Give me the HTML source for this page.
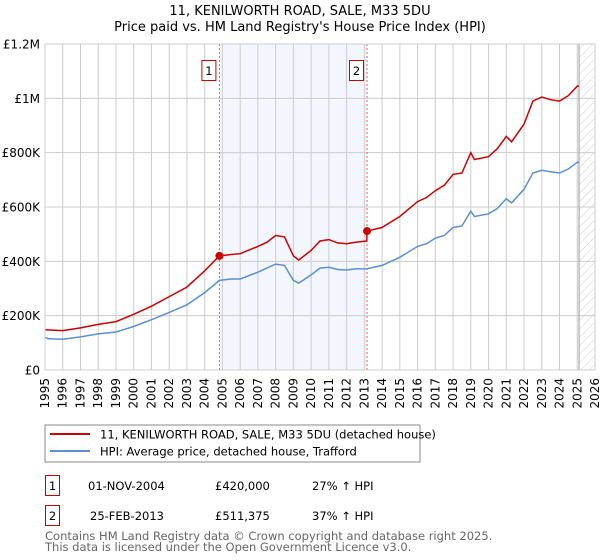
<!DOCTYPE html>
<html><head><meta charset="utf-8"><style>
body{margin:0;width:600px;height:560px;background:#fff;font-family:"DejaVu Sans","Liberation Sans",sans-serif;overflow:hidden}
svg{display:block}
</style></head><body>
<svg width="600" height="560" id="c" font-family="DejaVu Sans, Liberation Sans, sans-serif">
<defs><pattern id="hatch" width="6" height="6" patternUnits="userSpaceOnUse" patternTransform="rotate(45)"><line x1="0" y1="0" x2="0" y2="6" stroke="#ccc" stroke-width="1"/></pattern></defs>
<text x="300" y="15" text-anchor="middle" font-size="13">11, KENILWORTH ROAD, SALE, M33 5DU</text>
<text x="300" y="31" text-anchor="middle" font-size="13">Price paid vs. HM Land Registry's House Price Index (HPI)</text>
<g id="plot"></g>
<rect x="45" y="425" width="375" height="37" fill="#fff" stroke="#888"/>
<line x1="50" y1="434" x2="90" y2="434" stroke="#cc0000" stroke-width="2"/>
<text x="100" y="438.5" font-size="11.5">11, KENILWORTH ROAD, SALE, M33 5DU (detached house)</text>
<line x1="50" y1="451" x2="90" y2="451" stroke="#5b8fd0" stroke-width="2"/>
<text x="100" y="455.5" font-size="11.5">HPI: Average price, detached house, Trafford</text>
<g font-size="11.5">
<rect x="45.5" y="475.5" width="14" height="20" fill="#fff" stroke="#cc0000"/>
<text x="52.5" y="490" text-anchor="middle">1</text>
<text x="88" y="490">01-NOV-2004</text>
<text x="215" y="490">£420,000</text>
<text x="312" y="490">27% ↑ HPI</text>
<rect x="45.5" y="505.5" width="14" height="20" fill="#fff" stroke="#cc0000"/>
<text x="52.5" y="520" text-anchor="middle">2</text>
<text x="90" y="520">25-FEB-2013</text>
<text x="215" y="520">£511,375</text>
<text x="312" y="520">37% ↑ HPI</text>
</g>
<text x="45" y="540" font-size="11.5" fill="#666">Contains HM Land Registry data © Crown copyright and database right 2025.</text>
<text x="45" y="551" font-size="11.5" fill="#666">This data is licensed under the Open Government Licence v3.0.</text>
</svg>
<script>
const hpiDates=[1995,1995.2,1996,1997,1998,1999,2000,2001,2002,2003,2004,2004.83,2005.5,2006,2007,2007.5,2008,2008.5,2009,2009.3,2010,2010.5,2011,2011.5,2012,2012.5,2013.15,2014,2015,2016,2016.5,2017,2017.5,2018,2018.5,2019,2019.2,2020,2020.5,2021,2021.3,2022,2022.5,2023,2023.5,2024,2024.5,2025,2025.1];
const hpiValues=[120,115,113,122,133,140,160,185,212,240,285,330,335,335,360,375,390,385,330,320,350,375,378,370,368,372,373,385,415,455,465,485,495,525,530,585,565,575,595,630,615,665,725,735,730,725,740,765,765];
const propDates=[1995,1996,1997,1998,1999,2000,2001,2002,2003,2004,2004.83,2005.5,2006,2007,2007.5,2008,2008.5,2009,2009.3,2010,2010.5,2011,2011.5,2012,2012.5,2013.14,2013.15,2014,2015,2016,2016.5,2017,2017.5,2018,2018.5,2019,2019.2,2020,2020.5,2021,2021.3,2022,2022.5,2023,2023.5,2024,2024.5,2025,2025.1];
const propValues=[148,145,155,168,178,205,235,270,305,365,420,425,428,455,470,495,490,420,405,440,475,480,468,465,470,475,511,525,565,620,635,660,680,720,725,800,775,785,815,860,840,905,990,1005,995,990,1010,1045,1045];
const sales=[{n:"1",d:2004.83,v:420},{n:"2",d:2013.15,v:511.375}];
const yTicks=[0,200,400,600,800,1000,1200];
const yLabels=["£0","£200K","£400K","£600K","£800K","£1M","£1.2M"];
const xYears=[1995,1996,1997,1998,1999,2000,2001,2002,2003,2004,2005,2006,2007,2008,2009,2010,2011,2012,2013,2014,2015,2016,2017,2018,2019,2020,2021,2022,2023,2024,2025,2026];
const X0=45,X1=595,Y0=370,Y1=44;
const x=d=>X0+(d-1995)/(2026-1995)*(X1-X0);
const y=v=>Y0-v/1200*(Y0-Y1);
const NS="http://www.w3.org/2000/svg";
const g=document.getElementById('plot');
function mk(t,a,p){const e=document.createElementNS(NS,t);for(const k in a)e.setAttribute(k,a[k]);(p||g).appendChild(e);return e;}
let e;
e=mk('rect',{x:x(sales[0].d),y:Y1,width:x(sales[1].d)-x(sales[0].d),height:Y0-Y1,fill:'#eef2fc',opacity:0.7});


e=mk('rect',{x:x(2025.1),y:Y1,width:X1-x(2025.1),height:Y0-Y1,fill:'url(#hatch)'});


xYears.forEach(yr=>{
 e=mk('line',{x1:x(yr),x2:x(yr),y1:Y1,y2:Y0,stroke:'#ccc'});
 
 
 e=mk('text',{x:0,y:0,'font-size':12,'text-anchor':'end',transform:`translate(${x(yr)+4},${Y0+8}) rotate(-90)`});
 e.textContent=yr;
 
 
});
yTicks.forEach((v,i)=>{
 e=mk('line',{x1:X0,x2:X1,y1:y(v),y2:y(v),stroke:'#ccc'});
 
 
 e=mk('text',{x:X0-5,y:y(v)+4.5,'font-size':12,'text-anchor':'end'});
 e.textContent=yLabels[i];
 
 
});
e=mk('line',{x1:x(2025.1),x2:x(2025.1),y1:Y1,y2:Y0,stroke:'#999','stroke-width':1});


sales.forEach(s=>{
 e=mk('line',{x1:x(s.d),x2:x(s.d),y1:Y1,y2:Y0,stroke:'#e06060','stroke-dasharray':'2,2','stroke-width':1});
 
 
});
const pts=(ds,vs)=>ds.map((d,i)=>x(d).toFixed(1)+','+y(vs[i]).toFixed(1)).join(' ');
e=mk('polyline',{points:pts(hpiDates,hpiValues),fill:'none',stroke:'#5b8fd0','stroke-width':1.5});


e=mk('polyline',{points:pts(propDates,propValues),fill:'none',stroke:'#cc0000','stroke-width':1.5});


sales.forEach(s=>{
 e=mk('circle',{cx:x(s.d),cy:y(s.v),r:4,fill:'#cc0000'});
 
 
 e=mk('rect',{x:x(s.d)-17.5,y:60.5,width:14,height:20,fill:'#fff',stroke:'#cc0000'});
 
 
 e=mk('text',{x:x(s.d)-10.5,y:75,'font-size':11.5,'text-anchor':'middle'});
 e.textContent=s.n;
 
 
});
e=mk('rect',{x:X0,y:Y1,width:X1-X0,height:Y0-Y1,fill:'none',stroke:'#ccc'});


</script>
</body></html>
